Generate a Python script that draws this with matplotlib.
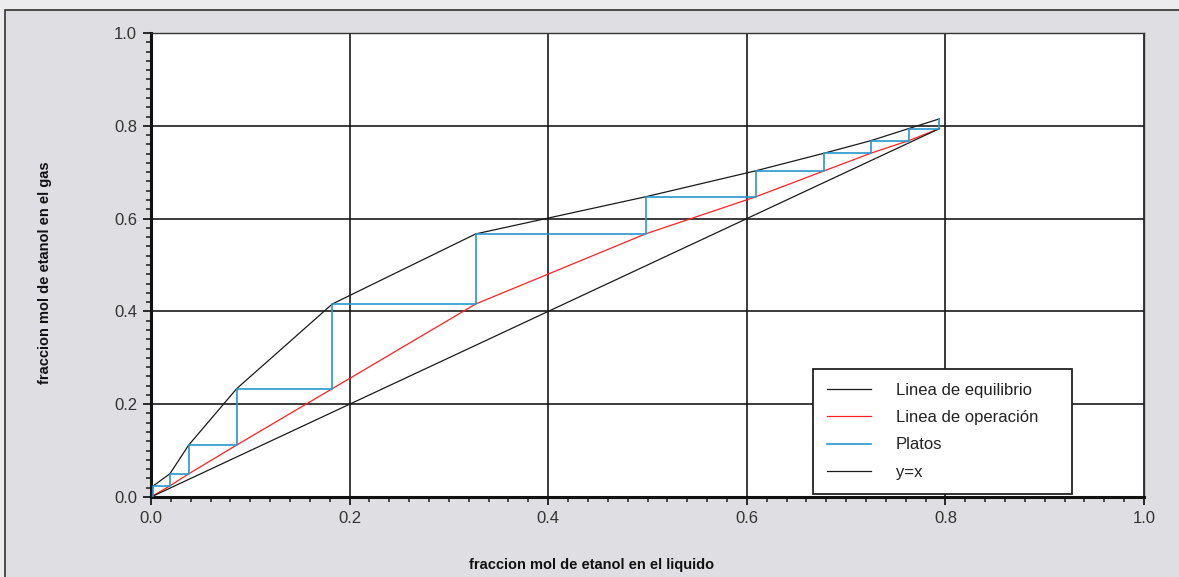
import numpy as np
import matplotlib.pyplot as plt
from matplotlib.patches import Rectangle
from matplotlib.ticker import MultipleLocator

plt.rcParams['font.family'] = ['Liberation Sans', 'DejaVu Sans']

# composiciones de cada plato
x_liq = [0.0023, 0.019, 0.038, 0.0863, 0.1826, 0.327, 0.498, 0.609, 0.678, 0.725, 0.763, 0.794]
y_gas = [0.024, 0.050, 0.112, 0.2335, 0.416, 0.567, 0.647, 0.703, 0.741, 0.768, 0.794, 0.815]

# linea de equilibrio
x_eq = [0.0] + x_liq
y_eq = [0.0] + y_gas

# linea de operacion
x_op = [0.0] + x_liq[1:]
y_op = [0.0] + y_gas[:-1]

# escalones (platos)
x_pl = [x_liq[0]]
y_pl = [x_liq[0]]
for i in range(len(x_liq)):
    x_pl.append(x_liq[i]); y_pl.append(y_gas[i])
    if i + 1 < len(x_liq):
        x_pl.append(x_liq[i + 1]); y_pl.append(y_gas[i])

x_diag = [0.0, x_liq[-1]]

fig = plt.figure(figsize=(11.79, 5.77), dpi=100)
fig.patch.set_facecolor('#ececee')
fig.patches.append(Rectangle((5 / 1179, -0.01), 1.0, 1 - 10 / 577 + 0.01,
                             transform=fig.transFigure, facecolor='#dfdfe3',
                             edgecolor='#333333', linewidth=1.2, zorder=-5))

ax = fig.add_axes([151 / 1179, 80 / 577, 993 / 1179, 464 / 577])
ax.set_zorder(2)
ax.set_facecolor('white')

ax.plot(x_eq, y_eq, color='#1a1a1a', lw=0.9, label='Linea de equilibrio', zorder=4)
ax.plot(x_op, y_op, color='#ff2020', lw=0.9, label='Linea de operación', zorder=4)
ax.plot(x_pl, y_pl, color='#2a96cc', lw=1.2, label='Platos', zorder=5)
ax.plot(x_diag, x_diag, color='#1a1a1a', lw=0.9, label='y=x', zorder=4)

ax.set_xlim(0, 1)
ax.set_ylim(0, 1)
ax.xaxis.set_major_locator(MultipleLocator(0.2))
ax.yaxis.set_major_locator(MultipleLocator(0.2))
ax.xaxis.set_minor_locator(MultipleLocator(0.02))
ax.yaxis.set_minor_locator(MultipleLocator(0.02))
ax.xaxis.set_major_formatter(plt.FormatStrFormatter('%.1f'))
ax.yaxis.set_major_formatter(plt.FormatStrFormatter('%.1f'))
ax.grid(True, which='major', color='#1a1a1a', lw=1.2, zorder=1)
ax.set_axisbelow(True)

ax.tick_params(which='major', length=6, width=1.3, color='#1a1a1a',
               labelsize=12, labelcolor='#333333', pad=4)
ax.tick_params(which='minor', length=3.5, width=1.1, color='#1a1a1a')

for s in ['left', 'bottom']:
    ax.spines[s].set_linewidth(2.2)
    ax.spines[s].set_color('#111111')
for s in ['top', 'right']:
    ax.spines[s].set_linewidth(1.0)
    ax.spines[s].set_color('#333333')

leg = ax.legend(loc='lower left', bbox_to_anchor=(0.667, 0.0065, 0.26, 0.267),
                mode='expand', borderaxespad=0, fontsize=12, handlelength=2.6,
                handletextpad=1.5, labelspacing=0.74, borderpad=0.85,
                fancybox=False, framealpha=1, edgecolor='#222222')
leg.get_frame().set_linewidth(1.3)
leg.set_zorder(10)
for t in leg.get_texts():
    t.set_color('#222222')

fig.text(592 / 1179, 1 - 565 / 577, 'fraccion mol de etanol en el liquido',
         ha='center', va='center', fontsize=10.5, fontweight='bold', color='#111111')
fig.text(45 / 1179, 1 - 273 / 577, 'fraccion mol de etanol en el gas',
         ha='center', va='center', rotation=90, fontsize=10.5, fontweight='bold',
         color='#111111')

fig.savefig('out.png', dpi=100, facecolor=fig.get_facecolor())
